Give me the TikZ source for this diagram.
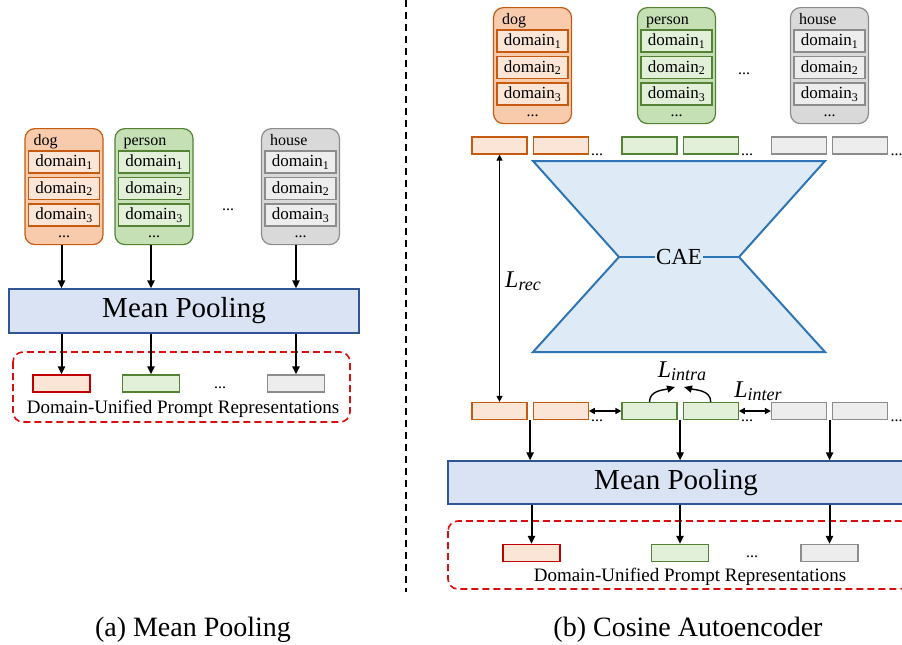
\documentclass[tikz,border=0pt]{standalone}
\usepackage{fontspec}
\setmainfont{Liberation Serif}
\usetikzlibrary{positioning,arrows.meta,calc}
\definecolor{orgline}{HTML}{C55A11}
\definecolor{orgfill}{HTML}{F8CBAD}
\definecolor{orglite}{HTML}{FBE5D6}
\definecolor{grnline}{HTML}{548235}
\definecolor{grnfill}{HTML}{C5E0B4}
\definecolor{grnlite}{HTML}{E2F0D9}
\definecolor{gryline}{HTML}{8C8C8C}
\definecolor{gryfill}{HTML}{D9D9D9}
\definecolor{grylite}{HTML}{EDEDED}
\definecolor{poolfill}{HTML}{DAE3F3}
\definecolor{poolline}{HTML}{2F5597}
\definecolor{caefill}{HTML}{DEEBF7}
\definecolor{caeline}{HTML}{2E75B6}
\definecolor{repred}{HTML}{C00000}
\definecolor{dashred}{HTML}{D90F0F}
% loss symbol: italic L with a large italic subscript
\newcommand{\lossname}[1]{\textit{L}\raisebox{-0.3ex}{\fontsize{18}{20}\selectfont\textit{#1}}}

\begin{document}
\begin{tikzpicture}[x=1pt,y=-1pt,
      lab/.style   ={inner sep=1pt,font=\fontsize{16}{18}\selectfont},
      dots/.style  ={inner sep=0pt,text height=3pt,text depth=0pt,font=\fontsize{16}{18}\selectfont},
      big/.style   ={draw,line width=1.2pt,rounded corners=10pt,minimum width=78pt,minimum height=116pt},
      dombox/.style={draw,line width=1.2pt,minimum width=71pt,minimum height=22pt,inner sep=1pt,font=\fontsize{17}{19}\selectfont},
      org/.style   ={draw=orgline,fill=orglite},
      grn/.style   ={draw=grnline,fill=grnlite},
      gry/.style   ={draw=gryline,fill=grylite},
      orgbig/.style={big,draw=orgline,fill=orgfill},
      grnbig/.style={big,draw=grnline,fill=grnfill},
      grybig/.style={big,draw=gryline,fill=gryfill},
      tok/.style   ={draw,line width=1.2pt,minimum width=55pt,minimum height=17pt,inner sep=0pt},
      rep/.style   ={draw,line width=1.2pt,minimum width=57pt,minimum height=17pt,inner sep=0pt},
      pool/.style  ={draw=poolline,fill=poolfill,line width=1.2pt,inner sep=0pt,font=\fontsize{29}{34}\selectfont},
      group/.style ={draw=dashred,line width=1.6pt,dash pattern=on 7pt off 4pt,rounded corners=10pt},
      reptxt/.style={inner sep=0pt,font=\fontsize{19}{22}\selectfont},
      loss/.style  ={inner sep=1pt,font=\fontsize{24}{26}\selectfont},
      caption/.style={inner sep=0pt,font=\fontsize{28}{32}\selectfont},
      arr/.style   ={-{Triangle[length=8pt,width=7pt]},line width=2pt},
      dbl/.style   ={{Triangle[length=6pt,width=6pt]}-{Triangle[length=6pt,width=6pt]},line width=1.6pt}]
      \useasboundingbox (0,0) rectangle (902,645);

      % Macro: class box with three domain entries (name, centre x, top y, label, colour)
      \newcommand{\placeclass}[5]{%
        \node[#5big,anchor=north] (#1) at (#2,#3) {};
        \node[lab,anchor=base west] (#1lab) at ($(#1.north west)+(8,17)$) {#4};
        \foreach \k in {1,2,3}{\node[dombox,#5] (#1d\k) at (#2,#3+34+26.5*\k-26.5) {domain\textsubscript{\k}};}
        \node[dots,anchor=base] (#1dots) at (#2,#3+109) {...};
      }

      % ---------- (a) Mean Pooling ----------
      \placeclass{ldog}{64}{128}{dog}{org}
      \placeclass{lper}{154}{128}{person}{grn}
      \placeclass{lhou}{300.5}{128}{house}{gry}
      \node[dots,anchor=base] (ldots) at (228,210) {...};

      \node[pool,minimum width=350pt,minimum height=44pt] (lpool) at (184,311) {Mean Pooling};

      \node[rep,draw=repred,fill=orglite] (lra) at (61.5,383.5) {};
      \node[rep,grn] (lrb) at (151,383.5) {};
      \node[rep,gry] (lrc) at (296,383.5) {};
      \node[dots,anchor=base] (lrdots) at (220,388) {...};
      \draw[group] (13,352) rectangle (350,422);
      \node[reptxt] (lrtxt) at (183,409) {Domain-Unified Prompt Representations};

      \foreach \r/\c in {lra/ldog,lrb/lper,lrc/lhou}{
        \draw[arr] (\r |- \c.south) -- (\r |- lpool.north);
        \draw[arr] (\r |- lpool.south) -- (\r.north);
      }
      \node[caption] (capa) at (193,630) {(a) Mean Pooling};

      % divider
      \draw[line width=1.8pt,dash pattern=on 7pt off 5pt] (406,0) -- (406,592);

      % ---------- (b) Cosine Autoencoder ----------
      \placeclass{rdog}{532.5}{7}{dog}{org}
      \placeclass{rper}{676.5}{7}{person}{grn}
      \placeclass{rhou}{829.5}{7}{house}{gry}
      \node[dots,anchor=base] (rdots) at (744,74) {...};

      % token rows (t: input, b: reconstructed)
      \foreach \n/\c/\xx in {a/org/499.5,b/grn/649.5,c/gry/799}{
        \node[tok,\c] (t\n1) at (\xx,145.5) {};
        \node[tok,\c,right=5pt of t\n1] (t\n2) {};
        \node[dots,anchor=base west] (t\n dots) at ($(t\n2.south east)+(2,1)$) {...};
        \node[tok,\c] (b\n1) at (\xx,411) {};
        \node[tok,\c,right=5pt of b\n1] (b\n2) {};
        \node[dots,anchor=base west] (b\n dots) at ($(b\n2.south east)+(2,1)$) {...};
      }

      % autoencoder
      \draw[draw=caeline,fill=caefill,line width=2pt] (533,161) -- (825,161) -- (739,257) -- (825,352)
            -- (533,352) -- (619,257) -- cycle;
      \draw[caeline,line width=2pt] (619,257) -- (739,257);
      \node[fill=caefill,inner sep=1pt,font=\fontsize{23}{26}\selectfont] (cae) at (679,257) {CAE};

      % losses
      \draw[dbl,line width=1.2pt] (ta1.south) -- (ba1.north);
      \node[loss] (lrec) at (523,281) {\lossname{rec}};
      \coordinate (intraL) at (675,387);
      \coordinate (intraR) at (684,387);
      \draw[arr,line width=1.4pt] (bb1.north) to[out=90,in=195] (intraL);
      \draw[arr,line width=1.4pt] (bb2.north) to[out=90,in=-15] (intraR);
      \node[loss] (lintra) at (682,371) {\lossname{intra}};
      \draw[dbl] (ba2.east) -- (bb1.west);
      \draw[dbl] (bb2.east) -- (bc1.west);
      \node[loss] (linter) at (758,391) {\lossname{inter}};

      \node[pool,minimum width=456pt,minimum height=43pt] (rpool) at (676,482.5) {Mean Pooling};

      \node[rep,draw=repred,fill=orglite] (rra) at (531.5,553) {};
      \node[rep,grn] (rrb) at (680,553) {};
      \node[rep,gry] (rrc) at (829.5,553) {};
      \node[dots,anchor=base] (rrdots) at (752,557) {...};
      \draw[group] (448,521) rectangle (910,589);
      \node[reptxt] (rrtxt) at (690,577) {Domain-Unified Prompt Representations};

      \foreach \r/\u/\v in {rra/ba1/ba2,rrb/bb1/bb2,rrc/bc1/bc2}{
        \coordinate (j\r) at ($(\u.south east)!.5!(\v.south west)$);
        \draw[arr] (j\r) -- (j\r |- rpool.north);
        \draw[arr] (\r |- rpool.south) -- (\r.north);
      }
      \node[caption] (capb) at (688,630) {(b) Cosine Autoencoder};
  \end{tikzpicture}
\end{document}
